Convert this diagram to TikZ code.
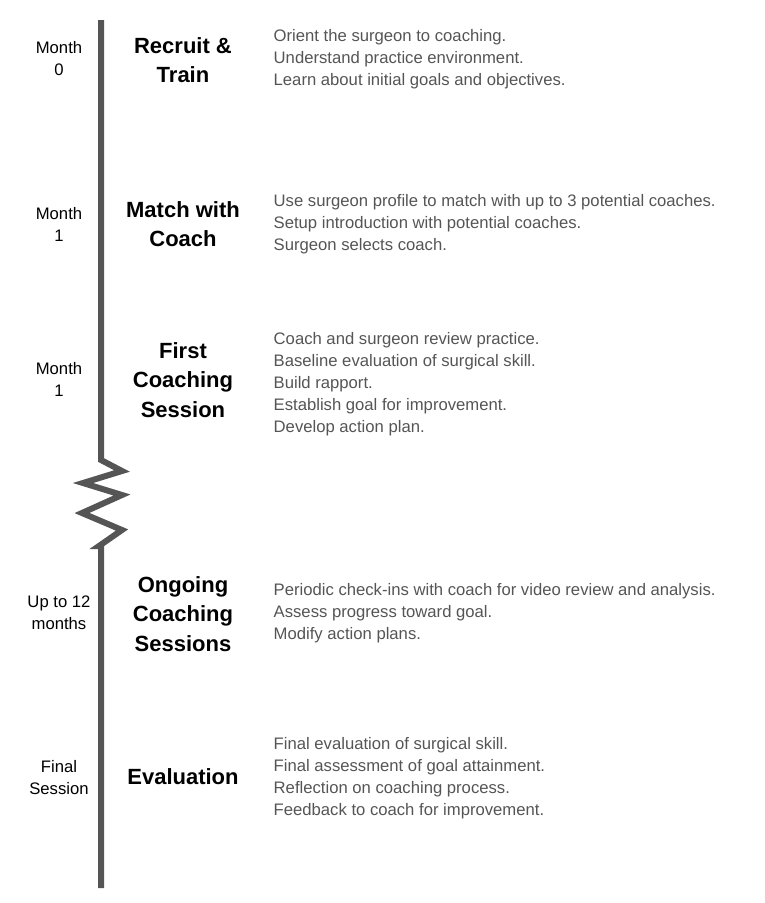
\documentclass[tikz,border=0pt]{standalone}
\usepackage{fontspec}
\setmainfont{Liberation Sans}
\definecolor{barGray}{HTML}{555555}
\definecolor{txtGray}{HTML}{555555}
\tikzset{
  when/.style={align=center, font=\fontsize{12.5}{16.5}\selectfont, text=black},
  stage/.style={align=center, font=\fontsize{16.5}{22}\selectfont\bfseries, text=black},
  todo/.style={align=left, anchor=west, font=\fontsize{12.5}{16.5}\selectfont, text=txtGray},
}
\begin{document}
\begin{tikzpicture}[x=0.75pt, y=-0.75pt]
	\useasboundingbox (0,0) rectangle (764,903);

	% Timeline
	\coordinate (top) at (101,20);
	\coordinate (bot) at (101,888);
	\draw[barGray, line width=4.5pt] (top) -- (101,460)
		-- (122,471) -- (83,483) -- (122,495) -- (82,513) -- (122,530) -- (99,546)
		-- (101,546) -- (bot);

	% Stages
	\node[when]  (m0) at (59,59)  {Month\\0};
	\node[stage] (s0) at (183,60) {Recruit \&\\Train};
	\node[todo]  (d0) at (269,59) {Orient the surgeon to coaching.\\Understand practice environment.\\Learn about initial goals and objectives.};

	\node[when]  (m1) at (59,224)  {Month\\1};
	\node[stage] (s1) at (183,224) {Match with\\Coach};
	\node[todo]  (d1) at (269,224) {Use surgeon profile to match with up to 3 potential coaches.\\Setup introduction with potential coaches.\\Surgeon selects coach.};

	\node[when]  (m2) at (59,379)  {Month\\1};
	\node[stage] (s2) at (183,380) {First\\Coaching\\Session};
	\node[todo]  (d2) at (269,384) {Coach and surgeon review practice.\\Baseline evaluation of surgical skill.\\Build rapport.\\Establish goal for improvement.\\Develop action plan.};

	\node[when]  (m3) at (59,613)  {Up to 12\\months};
	\node[stage] (s3) at (183,614) {Ongoing\\Coaching\\Sessions};
	\node[todo]  (d3) at (269,613) {Periodic check-ins with coach for video review and analysis.\\Assess progress toward goal.\\Modify action plans.};

	\node[when]  (m4) at (59,778)  {Final\\Session};
	\node[stage] (s4) at (183,777) {Evaluation};
	\node[todo]  (d4) at (269,778) {Final evaluation of surgical skill.\\Final assessment of goal attainment.\\Reflection on coaching process.\\Feedback to coach for improvement.};
\end{tikzpicture}
\end{document}
